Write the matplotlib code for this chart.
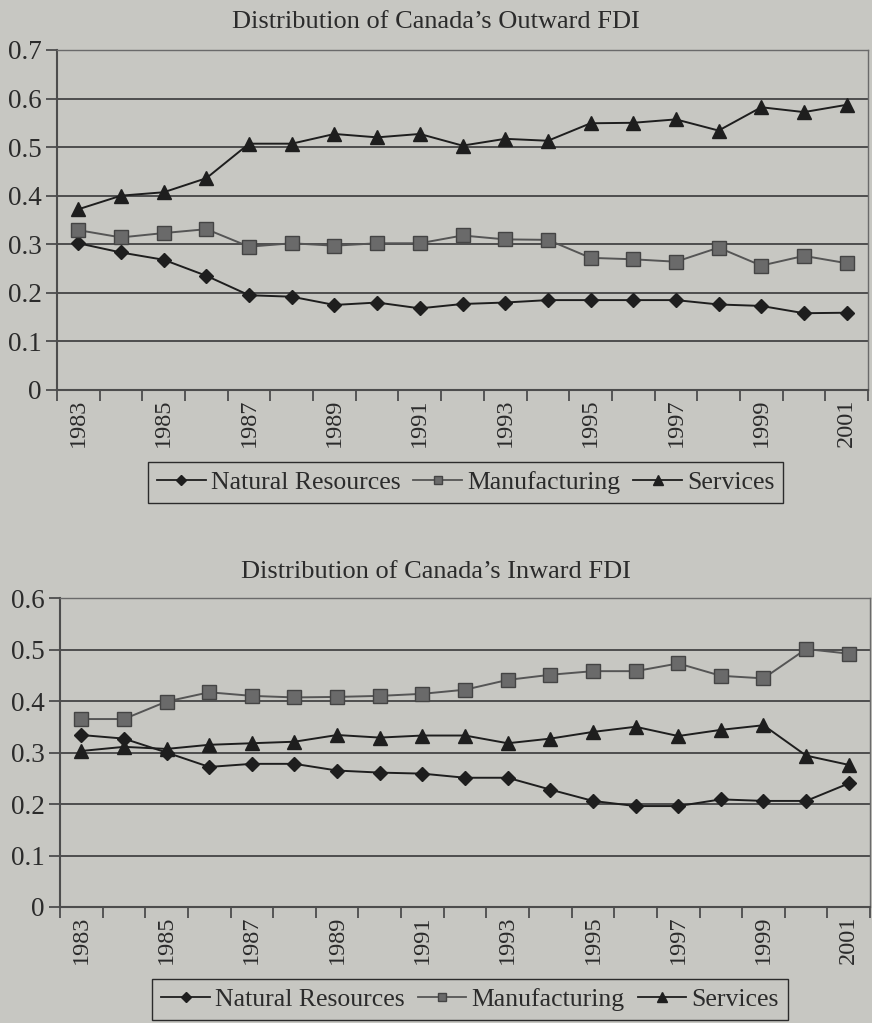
import numpy as np
import matplotlib
matplotlib.use("Agg")
import matplotlib.pyplot as plt
from matplotlib.lines import Line2D

plt.rcParams["font.family"] = ["Liberation Serif", "DejaVu Serif"]

years = list(range(1983, 2002))
tick_years = [str(y) if y % 2 == 1 else "" for y in years]
series_names = ["Natural Resources", "Manufacturing", "Services"]

# outward FDI shares
out_natural = [0.302, 0.283, 0.268, 0.235, 0.195, 0.192, 0.175, 0.180, 0.168, 0.177,
               0.180, 0.185, 0.185, 0.185, 0.185, 0.176, 0.173, 0.158, 0.159]
out_manuf = [0.329, 0.314, 0.323, 0.331, 0.295, 0.302, 0.297, 0.302, 0.302, 0.318,
             0.310, 0.309, 0.272, 0.269, 0.264, 0.293, 0.256, 0.276, 0.261]
out_services = [0.372, 0.400, 0.407, 0.436, 0.507, 0.507, 0.527, 0.520, 0.527, 0.503,
                0.517, 0.513, 0.549, 0.550, 0.557, 0.534, 0.582, 0.572, 0.587]

# inward FDI shares
in_natural = [0.334, 0.327, 0.300, 0.272, 0.278, 0.278, 0.265, 0.261, 0.259, 0.251,
              0.251, 0.228, 0.206, 0.196, 0.196, 0.209, 0.206, 0.206, 0.240]
in_manuf = [0.365, 0.365, 0.399, 0.417, 0.410, 0.407, 0.408, 0.410, 0.414, 0.422,
            0.441, 0.451, 0.458, 0.458, 0.473, 0.449, 0.444, 0.501, 0.492]
in_services = [0.303, 0.311, 0.307, 0.315, 0.318, 0.321, 0.334, 0.329, 0.333, 0.333,
               0.318, 0.327, 0.340, 0.350, 0.332, 0.344, 0.353, 0.294, 0.276]

paper = "#c7c7c2"
ink = "#2b2b2b"
grid = "#4d4d4d"
styles = [dict(marker="D", color="#1e1e1e", mfc="#1e1e1e", ms=7.5),
          dict(marker="s", color="#555555", mfc="#6a6a6a", mec="#444444", ms=9.5),
          dict(marker="^", color="#1e1e1e", mfc="#1e1e1e", ms=10)]

fig = plt.figure(figsize=(8.72, 10.23), dpi=100, facecolor=paper)


def draw_panel(rect, title, data, ymax, title_y, legend_xy):
    ax = fig.add_axes(rect, facecolor=paper)
    x = np.arange(len(years))
    for vals, st in zip(data, styles):
        ax.plot(x, vals, lw=1.4, **st)
    ax.set_xlim(-0.5, len(years) - 0.5)
    ax.set_ylim(0, ymax)
    yt = np.arange(0, ymax + 0.001, 0.1)
    ax.set_yticks(yt)
    ax.set_yticklabels(["0" if v == 0 else f"{v:.1f}" for v in yt])
    for v in yt[1:]:
        ax.axhline(v, color=grid, lw=1.4, zorder=0)
    ax.set_xticks(x)
    ax.set_xticklabels(tick_years, rotation=90)
    ax.set_xticks(np.arange(-0.5, len(years)), minor=True)
    ax.tick_params(axis="x", which="major", length=0, pad=6, labelsize=17.5, colors=ink)
    ax.tick_params(axis="x", which="minor", length=8, width=1.3, color=grid)
    ax.tick_params(axis="y", length=8, width=1.3, color=grid, labelsize=19.5, labelcolor=ink, pad=3)
    for side in ["left", "bottom"]:
        ax.spines[side].set_color(grid)
        ax.spines[side].set_linewidth(1.5)
    for side in ["top", "right"]:
        ax.spines[side].set_color("#6a6a6a")
        ax.spines[side].set_linewidth(1.0)
    fig.text(0.5, title_y, title, ha="center", va="baseline", fontsize=19, color=ink)
    handles = [Line2D([], [], lw=1.3, **dict(st, ms=st["ms"] * 0.65)) for st in styles]
    fig.legend(handles, series_names, loc="upper center", bbox_to_anchor=legend_xy,
               ncol=3, frameon=True, fancybox=False, edgecolor=ink, facecolor=paper,
               framealpha=1, fontsize=18.5, handlelength=1.9, handletextpad=0.2,
               columnspacing=0.5, borderpad=0.35, borderaxespad=0, labelcolor=ink)
    return ax


draw_panel([0.0654, 0.6188, 0.930, 0.3324], "Distribution of Canada\u2019s Outward FDI",
           [out_natural, out_manuf, out_services], 0.7, 1 - 28 / 1023, (0.534, 1 - 462 / 1023))
draw_panel([0.0688, 0.1134, 0.929, 0.302], "Distribution of Canada\u2019s Inward FDI",
           [in_natural, in_manuf, in_services], 0.6, 1 - 578 / 1023, (0.539, 1 - 979 / 1023))

fig.savefig("out.png", dpi=100, facecolor=paper)
